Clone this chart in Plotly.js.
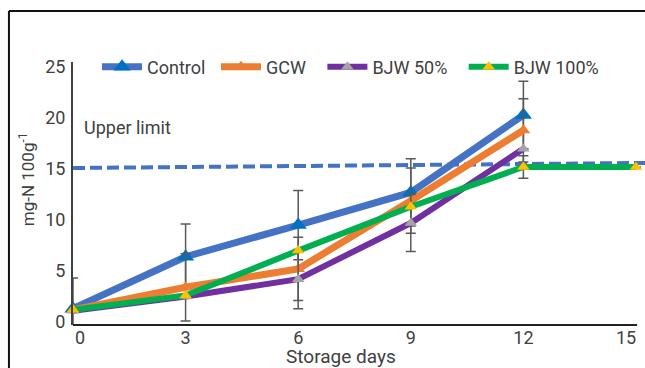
<!DOCTYPE html>
<html><head><meta charset="utf-8">
<script src="https://cdn.plot.ly/plotly-3.0.1.min.js"></script>
<style>html,body{margin:0;padding:0;background:#fff;}#chart{width:645px;height:368px;}</style>
</head><body><div id="chart"></div>
<script>
const days = [0, 3, 6, 9, 12];
const daysGreen = [0, 3, 6, 9, 12, 15];
const control = [1.3, 6.4, 9.5, 12.7, 20.3];
const controlErr = [3.0, 3.2, 3.4, 3.3, 3.3];
const gcw = [1.2, 3.4, 5.2, 11.9, 18.8];
const gcwErr = [0, 3.3, 3.1, 3.2, 3.1];
const bjw50 = [1.1, 2.5, 4.2, 9.7, 17.0];
const bjw50Err = [0, 0, 2.9, 2.8, 0];
const bjw100 = [1.2, 2.6, 7.0, 11.3, 15.2, 15.2];
const bjw100Err = [0, 0, 0, 0, 1.1, 0];
const limitX = [0, 15.3];
const limitY = [15.1, 15.6];
const xTicks = [0, 3, 6, 9, 12, 15];
const yTicks = [0, 5, 10, 15, 20, 25];

const errStyle = (arr) => ({type: 'data', array: arr, visible: true, color: '#595959', thickness: 1.5, width: 5});
const traces = [
  {x: limitX, y: limitY, mode: 'lines', line: {color: '#4472C4', width: 4, dash: '12px,5px'}, showlegend: false, hoverinfo: 'skip'},
  {x: days, y: control, name: 'Control', legend: 'legend', mode: 'lines+markers', cliponaxis: false,
   line: {color: '#4472C4', width: 7}, marker: {symbol: 'triangle-up', size: 15, color: '#0070C0'}, error_y: errStyle(controlErr)},
  {x: days, y: gcw, name: 'GCW', legend: 'legend2', mode: 'lines+markers', cliponaxis: false,
   line: {color: '#ED7D31', width: 7}, marker: {symbol: 'triangle-up', size: 12, color: '#ED7D31'}, error_y: errStyle(gcwErr)},
  {x: days, y: bjw50, name: 'BJW 50%', legend: 'legend3', mode: 'lines+markers', cliponaxis: false,
   line: {color: '#7030A0', width: 6}, marker: {symbol: 'triangle-up', size: 11, color: '#A5A5A5'}, error_y: errStyle(bjw50Err)},
  {x: daysGreen, y: bjw100, name: 'BJW 100%', legend: 'legend4', mode: 'lines+markers', cliponaxis: false,
   line: {color: '#00B050', width: 6}, marker: {symbol: 'triangle-up', size: 11, color: '#FFC000'}, error_y: errStyle(bjw100Err)}
];

const legendAt = (x) => ({orientation: 'h', x: x, y: 0.981, xanchor: 'left', yanchor: 'middle', itemwidth: 40,
  font: {size: 18, color: '#404040'}, bgcolor: 'rgba(0,0,0,0)'});

const edgeShift = {0: 7, 15: -10};
const tickAnns = xTicks.filter(v => v in edgeShift).map(v => ({
  text: String(v), xref: 'x', yref: 'paper', x: v, y: 0, yshift: -12, xshift: edgeShift[v],
  xanchor: 'center', yanchor: 'middle', showarrow: false, font: {size: 18, color: '#404040'}
}));

const layout = {
  width: 645, height: 368,
  margin: {l: 73, r: 0, t: 62, b: 43},
  paper_bgcolor: '#fff', plot_bgcolor: '#fff',
  font: {family: 'Roboto, sans-serif', size: 18, color: '#404040'},
  showlegend: true,
  legend: legendAt(0.042),
  legend2: legendAt(0.250),
  legend3: legendAt(0.436),
  legend4: legendAt(0.683),
  xaxis: {range: [0, 15.24], tickvals: xTicks, ticktext: xTicks.map(v => (v in edgeShift) ? '' : String(v)),
    showgrid: false, zeroline: false, showline: false, ticks: '', tickfont: {size: 18, color: '#404040'}, fixedrange: true},
  yaxis: {range: [-0.3, 25.5], tickvals: yTicks, ticktext: yTicks.map(String), showgrid: false, zeroline: false,
    showline: true, linecolor: '#404040', linewidth: 2, ticks: '', ticklabelstandoff: 2,
    tickfont: {size: 18, color: '#404040'}, fixedrange: true},
  shapes: [
    {type: 'line', xref: 'x', yref: 'paper', x0: 0, x1: 15.03, y0: 0, y1: 0, line: {color: '#222', width: 2}},
    {type: 'line', xref: 'paper', yref: 'paper', x0: -0.112, x1: 1.05, y0: 1.194, y1: 1.194, line: {color: '#111', width: 2}},
    {type: 'line', xref: 'paper', yref: 'paper', x0: -0.112, x1: -0.112, y0: 1.194, y1: -0.2, line: {color: '#111', width: 2}}
  ],
  annotations: [
    {text: 'Upper limit', xref: 'x', yref: 'y', x: 0.25, y: 19.1, xanchor: 'left', yanchor: 'middle', showarrow: false,
     font: {size: 18, color: '#404040'}},
    {text: 'Storage days', xref: 'paper', yref: 'paper', x: 0.469, y: -0.121, xanchor: 'center', yanchor: 'middle', showarrow: false,
     font: {size: 19, color: '#404040'}},
    {text: 'mg-N 100g<sup>-1</sup>', xref: 'paper', yref: 'paper', x: -0.080, y: 0.555, xanchor: 'center', yanchor: 'middle',
     textangle: -90, showarrow: false, font: {size: 17, color: '#404040'}}
  ].concat(tickAnns)
};
Plotly.newPlot('chart', traces, layout, {displayModeBar: false, staticPlot: true});
</script></body></html>
